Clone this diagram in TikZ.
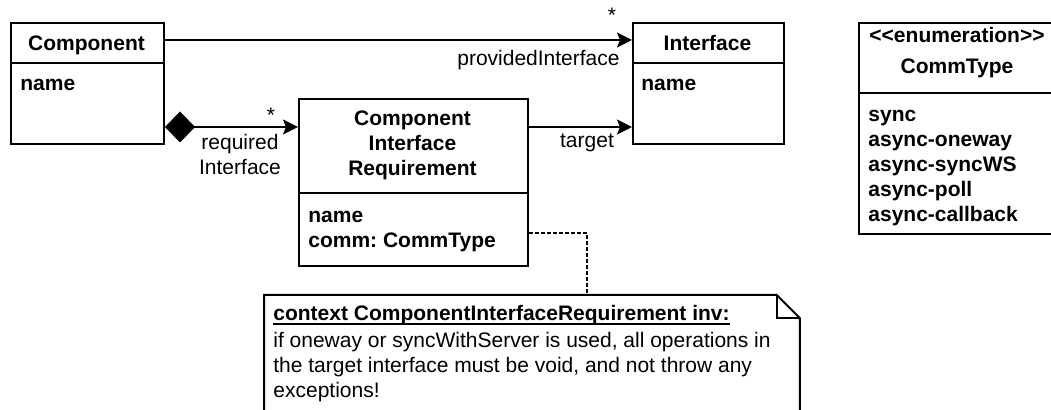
\documentclass[tikz,border=0pt]{standalone}
\usepackage{fontspec}
\setmainfont{Liberation Sans}
\usetikzlibrary{arrows.meta}
\newcommand\umlfont{\fontsize{10.5}{12.5}\selectfont\frenchspacing}

\begin{document}
\begin{tikzpicture}[x=0.5pt,y=-0.5pt,
  cls/.style={draw,line width=1pt,inner sep=0pt,anchor=north west},
  ttl/.style={font=\umlfont\bfseries,align=center,inner sep=0pt,anchor=base},
  attr/.style={font=\umlfont\bfseries,align=left,inner sep=0pt,anchor=base west},
  lbl/.style={font=\umlfont,align=center,inner sep=0pt},
  assoc/.style={line width=0.8pt,-{Stealth[length=7.5pt,width=7.5pt,inset=1.5pt]}},
  compos/.style={line width=0.8pt,{Diamond[length=15pt,width=15.5pt]}-{Stealth[length=7.5pt,width=7.5pt,inset=1.5pt]}},
  notelink/.style={line width=0.8pt,dash pattern=on 2pt off 1pt}]
  \useasboundingbox (0,0) rectangle (1051,410);

  \node[cls,minimum width=76.5pt,minimum height=60.5pt] (comp) at (10,22) {};
  \draw[line width=1pt] (comp.north west) ++(0,41) -- ++(153,0);
  \node[ttl] (comphd) at (86.5,50.5) {Component};
  \node[attr] (compname) at (20,90.5) {name};

  \node[cls,minimum width=75.5pt,minimum height=60.5pt] (iface) at (632,22) {};
  \draw[line width=1pt] (iface.north west) ++(0,41) -- ++(151,0);
  \node[ttl] (ifacehd) at (707.5,50.5) {Interface};
  \node[attr] (ifacename) at (641,90.5) {name};

  \node[cls,minimum width=114.5pt,minimum height=83.5pt] (cir) at (298,98) {};
  \draw[line width=1pt] (cir.north west) ++(0,95) -- ++(229,0);
  \node[ttl] (cirhd) at (412.5,176) {Component\\Interface\\Requirement};
  \node[attr] (cirattr) at (308,247.5) {name\\comm: CommType};

  \node[cls,minimum width=102pt,minimum height=105.5pt] (enum) at (858,22) {};
  \draw[line width=1pt] (enum.north west) ++(0,71) -- ++(204,0);
  \node[ttl] (enumhd) at (957,74) {<{}<enumeration>{}>\\[3pt]CommType};
  \node[attr] (enumlit) at (868,222) {sync\\async-oneway\\async-syncWS\\async-poll\\async-callback};

  \draw[assoc] ([yshift=-9pt]comp.north east) -- ([yshift=-9pt]iface.north west);
  \node[lbl] (provstar) at (612,15) {*};
  \node[lbl,anchor=base east] (provlbl) at (620,66) {providedInterface};

  \draw[compos] ([yshift=-52.5pt]comp.north east) coordinate (req) -- (req -| cir.west);
  \node[lbl] (reqstar) at (271,115) {*};
  \node[lbl,anchor=base] (reqlbl) at (240,175) {required\\Interface};

  \draw[assoc] (req -| cir.east) -- (req -| iface.west);
  \node[lbl,anchor=base] (targetlbl) at (587,148) {target};

  \node[inner sep=0pt,anchor=north west,minimum width=267.5pt,minimum height=70pt] (note) at (264,295) {};
  \draw[line width=1pt] (note.south west) -- (note.north west) -- ([xshift=-11.5pt]note.north east)
    -- ([yshift=-11.5pt]note.north east) -- (note.south east);
  \draw[line width=1pt] ([xshift=-11.5pt]note.north east) |- ([yshift=-11.5pt]note.north east);
  \node[attr] (notehd) at (273,321) {context ComponentInterfaceRequirement inv:};
  \draw[line width=0.8pt] ([yshift=-1.5pt]notehd.base west) -- ([yshift=-1.5pt]notehd.base east);
  \node[lbl,align=left,anchor=base west] (notebody) at (273,398)
    {if oneway or syncWithServer is used, all operations in\\the target interface must be void, and not throw any\\exceptions!};

  \draw[notelink] ([yshift=-67.5pt]cir.north east) -| ([xshift=161.5pt]note.north west);
\end{tikzpicture}
\end{document}
